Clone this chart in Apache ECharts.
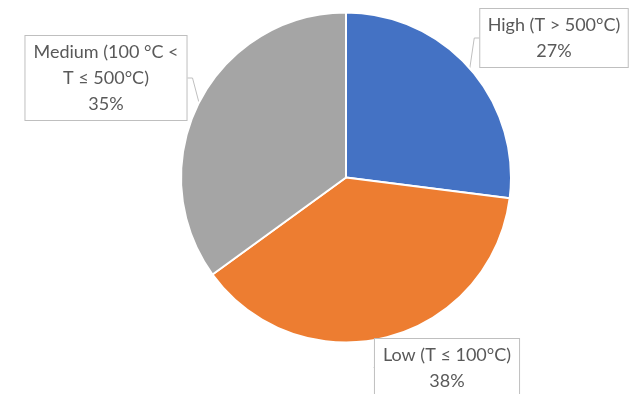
<!DOCTYPE html>
<html>
<head>
<meta charset="utf-8">
<script src="https://cdn.jsdelivr.net/npm/echarts@6/dist/echarts.min.js"></script>
<style>
html,body{margin:0;padding:0;background:#fff;}
#chart{width:641px;height:394px;}
</style>
</head>
<body>
<div id="chart"></div>
<script>
const categories = ["High (T > 500°C)", "Low (T ≤ 100°C)", "Medium (100 °C <\nT ≤ 500°C)"];
const values = [27, 38, 35];
const colors = ["#4472C4", "#ED7D31", "#A5A5A5"];
const labelCenters = [[554, 38], [447, 368], [106, 78]];

const chart = echarts.init(document.getElementById('chart'), null, {renderer: 'canvas'});
chart.setOption({
  animation: false,
  series: [{
    type: 'pie',
    center: [346, 177.5],
    radius: 165,
    startAngle: 90,
    clockwise: true,
    data: categories.map((c, i) => ({name: c, value: values[i], itemStyle: {color: colors[i]}})),
    itemStyle: {borderColor: '#fff', borderWidth: 2},
    emphasis: {disabled: true},
    label: {
      show: true,
      position: 'outside',
      formatter: '{b}\n{c}%',
      fontFamily: 'Lato',
      fontSize: 18,
      lineHeight: 26,
      color: '#595959',
      align: 'center',
      overflow: 'none',
      backgroundColor: '#fff',
      borderColor: '#BFBFBF',
      borderWidth: 1,
      padding: [3, 8, 3, 8]
    },
    labelLine: {show: true, length: 5, length2: 5, lineStyle: {color: '#BFBFBF', width: 1}},
    labelLayout: function (params) {
      const c = labelCenters[params.dataIndex];
      return {x: c[0], y: c[1], align: 'center', verticalAlign: 'middle'};
    }
  }]
});
</script>
</body>
</html>
